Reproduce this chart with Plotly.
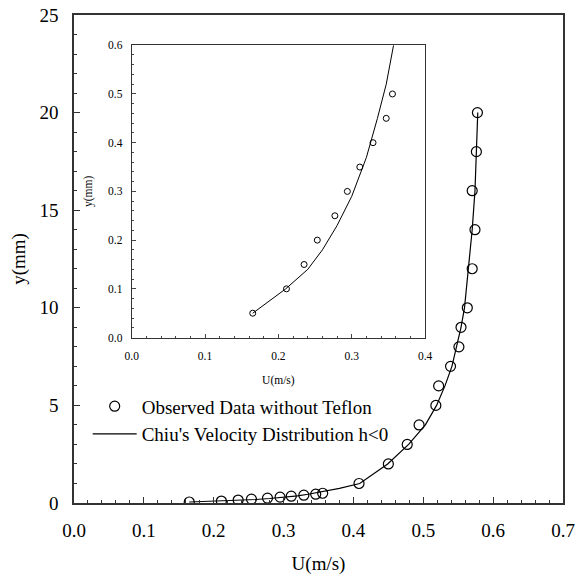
import plotly.graph_objects as go

# Observed data without Teflon (main chart)
obs_u = [0.165, 0.211, 0.235, 0.254, 0.277, 0.295, 0.311, 0.329, 0.346, 0.356,
         0.408, 0.450, 0.477, 0.494, 0.518, 0.522, 0.539, 0.551, 0.554, 0.563,
         0.570, 0.574, 0.570, 0.576, 0.5775]
obs_y = [0.05, 0.10, 0.15, 0.20, 0.25, 0.30, 0.35, 0.40, 0.45, 0.50,
         1, 2, 3, 4, 5, 6, 7, 8, 9, 10,
         12, 14, 16, 18, 20]

# Chiu's velocity distribution h<0 (fitted curve)
fit_u = [0.165, 0.21, 0.24, 0.26, 0.28, 0.30, 0.32, 0.335, 0.347, 0.357, 0.38,
         0.409, 0.449, 0.479, 0.503, 0.519, 0.531, 0.541, 0.548, 0.554, 0.559,
         0.565, 0.570, 0.574, 0.576, 0.578]
fit_y = [0.05, 0.10, 0.14, 0.18, 0.23, 0.29, 0.37, 0.45, 0.52, 0.60, 0.75,
         1.0, 2.0, 3.0, 4.0, 5.0, 6.0, 7.0, 8.0, 9.0, 10.0,
         12, 14, 16, 18, 20]

# Inset (near-bed zoom)
ins_u = [0.165, 0.211, 0.235, 0.253, 0.277, 0.294, 0.311, 0.329, 0.347, 0.3555]
ins_y = [0.05, 0.10, 0.15, 0.20, 0.25, 0.30, 0.35, 0.40, 0.45, 0.50]
ins_fit_u = [0.165, 0.21, 0.24, 0.26, 0.28, 0.30, 0.32, 0.335, 0.347, 0.357]
ins_fit_y = [0.05, 0.10, 0.14, 0.18, 0.23, 0.29, 0.37, 0.45, 0.52, 0.60]

FONT = "Liberation Serif"

fig = go.Figure()
fig.add_trace(go.Scatter(x=obs_u, y=obs_y, mode="markers",
                         name="Observed Data without Teflon",
                         marker=dict(symbol="circle-open", size=10, color="black",
                                     line=dict(width=1.2, color="black"))))
fig.add_trace(go.Scatter(x=fit_u, y=fit_y, mode="lines",
                         name="Chiu's Velocity Distribution h<0",
                         line=dict(color="black", width=1.2)))
fig.add_trace(go.Scatter(x=ins_u, y=ins_y, mode="markers", xaxis="x2", yaxis="y2",
                         showlegend=False,
                         marker=dict(symbol="circle-open", size=6, color="black",
                                     line=dict(width=1, color="black"))))
fig.add_trace(go.Scatter(x=ins_fit_u, y=ins_fit_y, mode="lines", xaxis="x2", yaxis="y2",
                         showlegend=False, line=dict(color="black", width=1)))

axis_main = dict(showgrid=False, zeroline=False, showline=True, linecolor="#333",
                 linewidth=1.5, mirror=True, ticks="inside", ticklen=6,
                 tickcolor="#333", automargin=False, ticklabeloverflow="allow",
                 tickfont=dict(family=FONT, size=19, color="black"))

fig.update_layout(
    width=575, height=576,
    margin=dict(l=74, r=12, t=15, b=73),
    plot_bgcolor="white", paper_bgcolor="white",
    font=dict(family=FONT, color="black"),
    xaxis=dict(axis_main, range=[0, 0.7], dtick=0.1, tickformat=".1f",
               minor=dict(ticks="inside", ticklen=3, dtick=0.02, tickcolor="#333"),
               ticklabelstandoff=9,
               title=dict(text="U(m/s)", font=dict(family=FONT, size=19, color="black"),
                          standoff=17)),
    yaxis=dict(axis_main, range=[0, 25], dtick=5,
               minor=dict(ticks="inside", ticklen=3, dtick=1, tickcolor="#333"),
               ticklabelstandoff=10,
               title=dict(text="y(mm)", font=dict(family=FONT, size=19, color="black"),
                          standoff=9)),
    xaxis2=dict(domain=[0.118, 0.718], anchor="y2", range=[0, 0.4], dtick=0.1,
                tickformat=".1f", showgrid=False, zeroline=False, showline=True,
                linecolor="#333", linewidth=1, mirror=True, ticks="inside", ticklen=4,
                minor=dict(ticks="inside", ticklen=2, dtick=0.02),
                ticklabelstandoff=8, automargin=False,
                tickfont=dict(family=FONT, size=11.5, color="black"),
                title=dict(text="U(m/s)", font=dict(family=FONT, size=11.5, color="black"),
                           standoff=14)),
    yaxis2=dict(domain=[0.339, 0.938], anchor="x2", range=[0, 0.6], dtick=0.1,
                tickformat=".1f", showgrid=False, zeroline=False, showline=True,
                linecolor="#333", linewidth=1, mirror=True, ticks="inside", ticklen=4,
                minor=dict(ticks="inside", ticklen=2, dtick=0.02),
                ticklabelstandoff=6, automargin=False,
                tickfont=dict(family=FONT, size=11.5, color="black"),
                title=dict(text="y(mm)", font=dict(family=FONT, size=11.5, color="black"),
                           standoff=12)),
    legend=dict(x=0.028, y=0.237, xanchor="left", yanchor="top",
                bgcolor="rgba(0,0,0,0)", font=dict(family=FONT, size=19, color="black"),
                itemwidth=44, tracegroupgap=0),
    showlegend=True,
)

fig.write_html("out.html", config={"displayModeBar": False},
               post_script="document.body.style.margin='0';")
